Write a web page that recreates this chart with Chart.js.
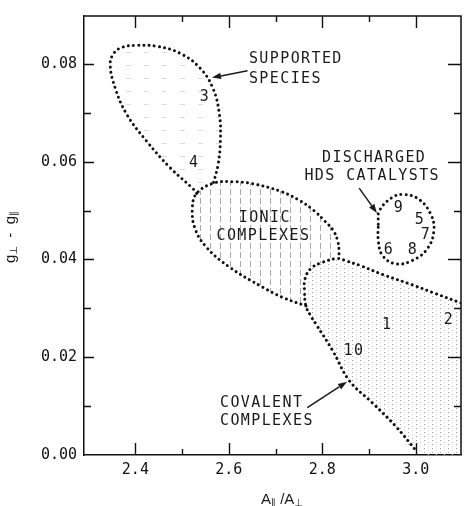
<!DOCTYPE html>
<html><head><meta charset="utf-8">
<script src="https://cdn.jsdelivr.net/npm/chart.js@4/dist/chart.umd.min.js"></script>
<style>html,body{margin:0;padding:0;background:#fff;}canvas{display:block;}</style>
</head><body>
<canvas id="c" width="465" height="506"></canvas>
<script>
// ---------------- data ----------------
const xTickLabels = [2.4, 2.6, 2.8, 3.0];
const yTickLabels = [0.00, 0.02, 0.04, 0.06, 0.08];

// region boundaries (A||/A_perp , g_perp - g||)
const supportedSpecies = [[2.531,0.0535],[2.524,0.0544],[2.474,0.0588],[2.424,0.0642],[2.382,0.0696],[2.357,0.0750],[2.346,0.0798],[2.354,0.0822],[2.372,0.0834],[2.400,0.0838],[2.446,0.0836],[2.495,0.0822],[2.538,0.0792],[2.566,0.0750],[2.580,0.0696],[2.582,0.0642],[2.577,0.0594],[2.567,0.0556]];
const ionicUpper = [[2.531,0.0535],[2.567,0.0556],[2.609,0.0559],[2.650,0.0555],[2.709,0.0540],[2.751,0.0521],[2.782,0.0500],[2.806,0.0478],[2.823,0.0460],[2.833,0.0438],[2.836,0.0416],[2.835,0.0402]];
const ionicLower = [[2.765,0.0305],[2.716,0.0322],[2.673,0.0343],[2.602,0.0384],[2.552,0.0425],[2.527,0.0465],[2.522,0.0506],[2.531,0.0535]];
const covalentComplexes = [[3.097,0.0311],[3.043,0.0330],[2.993,0.0348],[2.930,0.0369],[2.880,0.0388],[2.851,0.0397],[2.835,0.0402],[2.800,0.0394],[2.775,0.0381],[2.763,0.0360],[2.762,0.0335],[2.765,0.0305],[2.775,0.0285],[2.787,0.0267],[2.822,0.0214],[2.858,0.0152],[2.908,0.0106],[2.957,0.0059],[3.000,0.0010]];
const covalentAxisCorners = [[3.1,0.0],[3.1,0.0311]];
const dischargedHDS = [[2.920,0.0472],[2.922,0.0499],[2.950,0.0527],[2.975,0.0533],[3.007,0.0523],[3.032,0.0493],[3.039,0.0459],[3.025,0.0422],[2.993,0.0398],[2.957,0.0391],[2.929,0.0408],[2.920,0.0438],[2.920,0.0472]];

// numbered samples
const sampleIds = ['1','2','3','4','5','6','7','8','9','10'];
const sampleX = [2.939, 3.071, 2.549, 2.526, 3.009, 2.943, 3.022, 2.994, 2.964, 2.868];
const sampleY = [0.0266, 0.0276, 0.0733, 0.0598, 0.0481, 0.0420, 0.0449, 0.0420, 0.0506, 0.0213];

// ---------------- annotation layout ----------------
const regionTexts = [
  {t:'SUPPORTED', x:2.643, y:0.0809, align:'left'},
  {t:'SPECIES', x:2.643, y:0.0769, align:'left'},
  {t:'DISCHARGED', x:2.911, y:0.0607, align:'center'},
  {t:'HDS CATALYSTS', x:2.907, y:0.0570, align:'center'},
  {t:'IONIC', x:2.677, y:0.0485, align:'center'},
  {t:'COMPLEXES', x:2.674, y:0.0447, align:'center'},
  {t:'COVALENT', x:2.581, y:0.0106, align:'left'},
  {t:'COMPLEXES', x:2.581, y:0.0069, align:'left'}
];
const arrows = [
  {from:[2.640,0.0786], to:[2.564,0.0772]},
  {from:[2.879,0.0546], to:[2.917,0.0495]},
  {from:[2.768,0.0097], to:[2.853,0.0150]}
];

// ---------------- helpers ----------------
const pts = a => a.map(p => ({x:p[0], y:p[1]}));
function makePattern(w, h, draw){
  const c = document.createElement('canvas'); c.width = w; c.height = h;
  const g = c.getContext('2d'); draw(g);
  return g.createPattern(c, 'repeat');
}
const covPattern = makePattern(8, 4, g => { g.fillStyle = '#9a9a9a'; g.fillRect(0,0,1,1); g.fillStyle='#d0d0d0'; g.fillRect(4,2,1,1); });
const ionPattern = makePattern(10, 9, g => { g.fillStyle = '#a8a8a8'; g.fillRect(0,0,1,6); });
const supPattern = makePattern(18, 13, g => { g.fillStyle = '#dcdcdc'; g.fillRect(0,0,5,1); });

const DOT = {borderColor:'#111', borderWidth:3, borderDash:[0.01,5.2], borderCapStyle:'round', pointRadius:0, showLine:true, tension:0.4, fill:false, order:1};
function fillDS(arr, pat){ return {data:pts(arr), showLine:true, tension:0.4, pointRadius:0, borderWidth:0, borderColor:'rgba(0,0,0,0)', backgroundColor:pat, fill:'shape', order:3}; }

const isIn = (list, v, eps) => list.some(t => Math.abs(t - v) < eps);

const framePlugin = {
  id:'frame',
  afterDraw(chart){
    const {ctx, chartArea:a, scales:{x, y}} = chart;
    ctx.save();
    ctx.strokeStyle = '#111'; ctx.lineWidth = 1.5;
    ctx.beginPath(); ctx.moveTo(a.left, a.top); ctx.lineTo(a.right, a.top); ctx.lineTo(a.right, a.bottom); ctx.stroke();
    ctx.lineWidth = 1.4;
    x.ticks.forEach(t => {
      if (t.value < 2.35) return;
      const major = isIn(xTickLabels, t.value, 1e-6);
      const px = Math.round(x.getPixelForValue(t.value)) + 0.5;
      const L = major ? 12 : 6;
      ctx.beginPath();
      ctx.moveTo(px, a.bottom); ctx.lineTo(px, a.bottom - L);
      ctx.moveTo(px, a.top); ctx.lineTo(px, a.top + L);
      ctx.stroke();
    });
    y.ticks.forEach(t => {
      if (t.value < 0.005) return;
      const major = isIn(yTickLabels, t.value, 1e-6);
      const py = Math.round(y.getPixelForValue(t.value)) + 0.5;
      const L = major ? 10 : 7;
      ctx.beginPath();
      ctx.moveTo(a.left, py); ctx.lineTo(a.left + L, py);
      ctx.moveTo(a.right, py); ctx.lineTo(a.right - (major ? 13 : 7), py);
      ctx.stroke();
    });
    ctx.restore();
  }
};

function drawParts(ctx, parts, cx, cy){
  let total = 0;
  const f = p => p.size + 'px ' + (p.sub ? '"DejaVu Sans", sans-serif' : '"Liberation Sans", "DejaVu Sans", sans-serif');
  parts.forEach(p => { ctx.font = f(p); p.w = ctx.measureText(p.t).width; total += p.w; });
  let x = cx - total/2;
  ctx.textAlign = 'left'; ctx.textBaseline = 'alphabetic';
  parts.forEach(p => { ctx.font = f(p); ctx.fillText(p.t, x, cy + (p.dy||0)); x += p.w; });
}

function arrow(ctx, x1, y1, x2, y2){
  const ang = Math.atan2(y2 - y1, x2 - x1), L = 9, W = 3.2;
  const bx = x2 - L*Math.cos(ang), by = y2 - L*Math.sin(ang);
  ctx.beginPath(); ctx.moveTo(x1, y1); ctx.lineTo(bx, by); ctx.stroke();
  ctx.beginPath(); ctx.moveTo(x2, y2);
  ctx.lineTo(bx + W*Math.sin(ang), by - W*Math.cos(ang));
  ctx.lineTo(bx - W*Math.sin(ang), by + W*Math.cos(ang));
  ctx.closePath(); ctx.fill();
}

const annotPlugin = {
  id:'annot',
  afterDraw(chart){
    const {ctx, scales:{x, y}} = chart;
    ctx.save();
    ctx.fillStyle = '#1a1a1a'; ctx.strokeStyle = '#1a1a1a'; ctx.lineWidth = 1.5;
    ctx.font = '15px "DejaVu Sans Mono", monospace';
    ctx.letterSpacing = '1.4px';
    ctx.textBaseline = 'middle';
    regionTexts.forEach(r => { ctx.textAlign = r.align; ctx.fillText(r.t, x.getPixelForValue(r.x), y.getPixelForValue(r.y)); });
    ctx.textAlign = 'center';
    sampleIds.forEach((id, i) => ctx.fillText(id, x.getPixelForValue(sampleX[i]), y.getPixelForValue(sampleY[i])));
    ctx.letterSpacing = '0px';
    arrows.forEach(a => arrow(ctx, x.getPixelForValue(a.from[0]), y.getPixelForValue(a.from[1]), x.getPixelForValue(a.to[0]), y.getPixelForValue(a.to[1])));
    // axis titles
    drawParts(ctx, [{t:'A',size:15},{t:'\u2225',size:10,dy:2,sub:true},{t:' /A',size:15},{t:'\u22A5',size:10,dy:2,sub:true}], 282, 504);
    ctx.save();
    ctx.translate(15, 237); ctx.rotate(-Math.PI/2);
    drawParts(ctx, [{t:'g',size:15},{t:'\u22A5',size:10,dy:2,sub:true},{t:'  -  g',size:15},{t:'\u2225',size:10,dy:2,sub:true}], 0, 0);
    ctx.restore();
    ctx.restore();
  }
};

const tickFont = {family:'"DejaVu Sans Mono", monospace', size:15};

new Chart(document.getElementById('c'), {
  type:'scatter',
  data:{datasets:[
    fillDS(supportedSpecies, supPattern),
    fillDS(ionicUpper.concat(covalentComplexes.slice(7, 11), ionicLower), ionPattern),
    fillDS(covalentComplexes.concat(covalentAxisCorners), covPattern),
    Object.assign({data:pts(supportedSpecies)}, DOT),
    Object.assign({data:pts(ionicLower.concat(ionicUpper.slice(1)))}, DOT),
    Object.assign({data:pts(covalentComplexes)}, DOT),
    Object.assign({data:pts(dischargedHDS)}, DOT)
  ]},
  options:{
    responsive:false, animation:false, devicePixelRatio:1,
    layout:{padding:{top:14, right:4, left:0, bottom:0}},
    plugins:{legend:{display:false}, tooltip:{enabled:false}},
    scales:{
      x:{type:'linear', min:2.29, max:3.097,
        ticks:{stepSize:0.1, includeBounds:false, autoSkip:false, maxRotation:0, padding:6, font:tickFont, color:'#111',
          callback:v => isIn(xTickLabels, v, 1e-6) ? Number(v).toFixed(1) : ''},
        grid:{display:true, drawOnChartArea:false, drawTicks:false},
        border:{display:true, color:'#111', width:1.5},
        afterFit:s => { s.height = 51; }},
      y:{type:'linear', min:0, max:0.0898,
        ticks:{stepSize:0.01, includeBounds:false, autoSkip:false, padding:7, font:tickFont, color:'#111',
          callback:v => isIn(yTickLabels, v, 1e-6) ? Number(v).toFixed(2) : ''},
        grid:{display:true, drawOnChartArea:false, drawTicks:false},
        border:{display:true, color:'#111', width:1.5},
        afterFit:s => { s.width = 84; }}
    }
  },
  plugins:[framePlugin, annotPlugin]
});
</script>
</body></html>
